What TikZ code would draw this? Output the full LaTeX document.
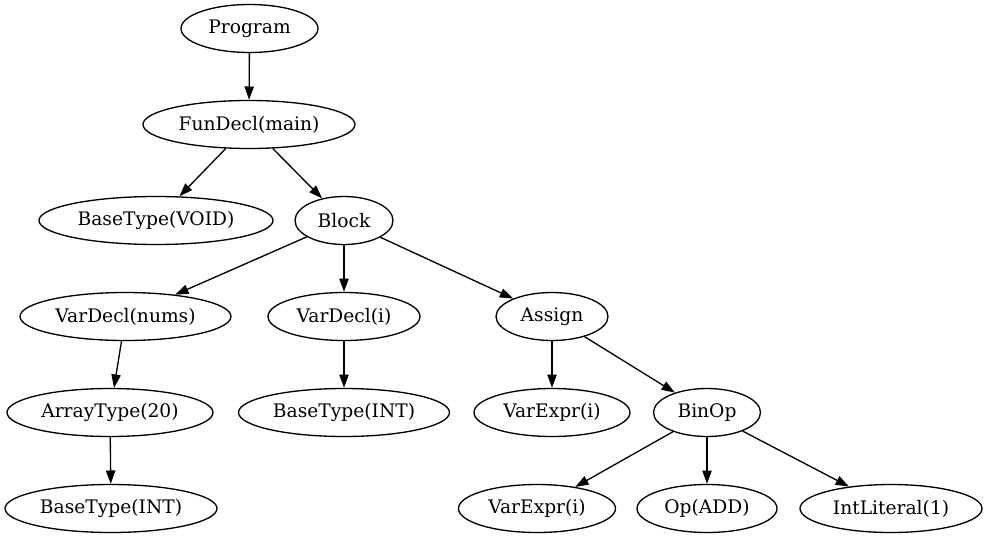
\documentclass[tikz,border=0pt]{standalone}
\usepackage{fontspec}
\setmainfont{DejaVu Serif}
\usetikzlibrary{shapes.geometric,arrows.meta}
\begin{document}
\begin{tikzpicture}[x=0.75pt,y=-0.75pt,
  tn/.style={ellipse,draw,line width=1pt,inner sep=0pt,minimum height=36pt,font=\fontsize{14pt}{16pt}\selectfont},
  edge/.style={line width=1pt,-{Triangle[length=10pt,width=7pt]}}]
\useasboundingbox (0,0) rectangle (987,539);
\node[tn,minimum width=137*0.75pt] (prog) at (249.5,28.5) {Program};
\node[tn,minimum width=212*0.75pt] (fun) at (249,124.5) {FunDecl(main)};
\node[tn,minimum width=234*0.75pt] (void) at (156,220.5) {BaseType(VOID)};
\node[tn,minimum width=98*0.75pt] (block) at (344,220.5) {Block};
\node[tn,minimum width=211*0.75pt] (vnums) at (125.5,316.5) {VarDecl(nums)};
\node[tn,minimum width=152*0.75pt] (vi) at (344,316.5) {VarDecl(i)};
\node[tn,minimum width=112*0.75pt] (assign) at (552,316.5) {Assign};
\node[tn,minimum width=206*0.75pt] (arr) at (110,412.5) {ArrayType(20)};
\node[tn,minimum width=211*0.75pt] (inti) at (344,412.5) {BaseType(INT)};
\node[tn,minimum width=156*0.75pt] (vex1) at (552,412.5) {VarExpr(i)};
\node[tn,minimum width=107*0.75pt] (binop) at (707,412.5) {BinOp};
\node[tn,minimum width=212*0.75pt] (intb) at (111,508.5) {BaseType(INT)};
\node[tn,minimum width=157*0.75pt] (vex2) at (537,508.5) {VarExpr(i)};
\node[tn,minimum width=140*0.75pt] (opadd) at (707,508.5) {Op(ADD)};
\node[tn,minimum width=182*0.75pt] (lit) at (891,508.5) {IntLiteral(1)};
\draw[edge] (prog) -- (fun);
\draw[edge] (fun) -- (void);
\draw[edge] (fun) -- (block);
\draw[edge] (block) -- (vnums);
\draw[edge] (block) -- (vi);
\draw[edge] (block) -- (assign);
\draw[edge] (vnums) -- (arr);
\draw[edge] (arr) -- (intb);
\draw[edge] (vi) -- (inti);
\draw[edge] (assign) -- (vex1);
\draw[edge] (assign) -- (binop);
\draw[edge] (binop) -- (vex2);
\draw[edge] (binop) -- (opadd);
\draw[edge] (binop) -- (lit);
\end{tikzpicture}
\end{document}
